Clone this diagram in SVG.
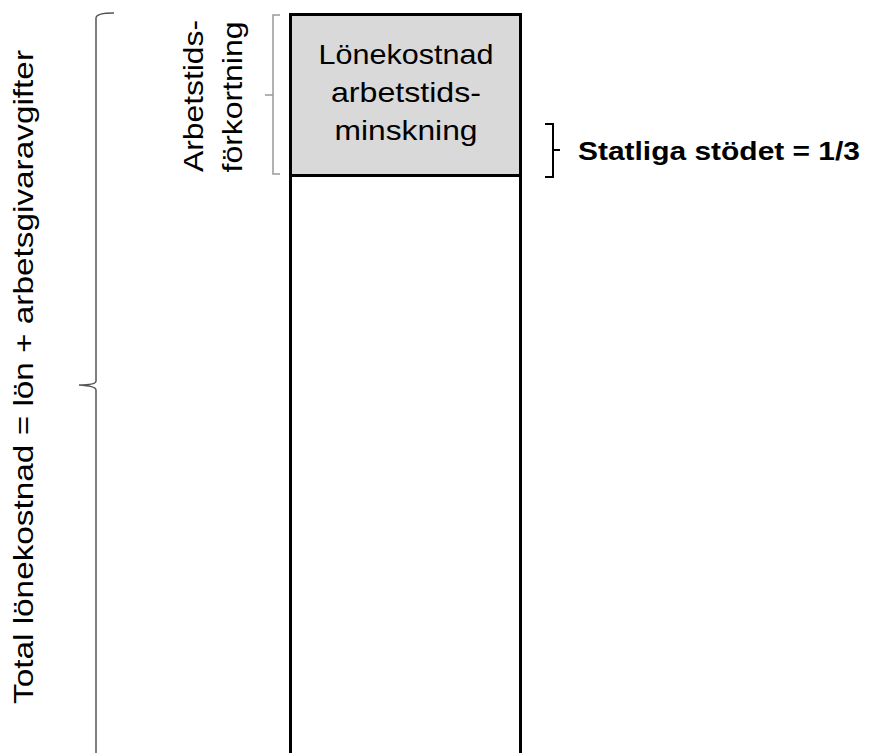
<svg xmlns="http://www.w3.org/2000/svg" width="889" height="753" viewBox="0 0 889 753">
<style>
.t{font-family:"Liberation Sans",Arial,sans-serif;font-size:28px;fill:#000}
.b{font-family:"Liberation Sans",Arial,sans-serif;font-size:25px;font-weight:bold;fill:#000}
.br{fill:none;stroke:#555;stroke-width:1.5}
.brl{fill:none;stroke:#999;stroke-width:1.5}
</style>
<rect width="889" height="753" fill="#fff"/>
<g id="bar">
<rect x="290.5" y="14.5" width="230" height="760" fill="#fff" stroke="#000" stroke-width="3"/>
<rect x="290.5" y="14.5" width="230" height="161" fill="#d9d9d9" stroke="#000" stroke-width="3"/>
<text class="t" text-anchor="middle" x="406" y="64" textLength="175" lengthAdjust="spacingAndGlyphs">Lönekostnad</text>
<text class="t" text-anchor="middle" x="406" y="102" textLength="150" lengthAdjust="spacingAndGlyphs">arbetstids-</text>
<text class="t" text-anchor="middle" x="406" y="140" textLength="143" lengthAdjust="spacingAndGlyphs">minskning</text>
</g>
<g id="connectors">
<path class="br" d="M114,13 Q96,13 96,18 L96,381 Q96,385 79,385 Q96,386 96,390 L96,753"/>
<path class="brl" d="M280,15 L273,15 L273,95 L265,95 M273,95 L273,174 L280,174"/>
<path d="M545,124 L553,124 L553,150 L560,150 M553,150 L553,177 L545,177" fill="none" stroke="#000" stroke-width="2"/>
</g>
<g id="labels">
<text class="t" text-anchor="middle" transform="translate(33,377) rotate(-90)" textLength="654" lengthAdjust="spacingAndGlyphs">Total lönekostnad = lön + arbetsgivaravgifter</text>
<text class="t" text-anchor="middle" transform="translate(203,96) rotate(-90)" textLength="152" lengthAdjust="spacingAndGlyphs">Arbetstids-</text>
<text class="t" text-anchor="middle" transform="translate(242,97) rotate(-90)" textLength="151" lengthAdjust="spacingAndGlyphs">förkortning</text>
<text class="b" x="578" y="160" textLength="282" lengthAdjust="spacingAndGlyphs">Statliga stödet = 1/3</text>
</g>
</svg>
